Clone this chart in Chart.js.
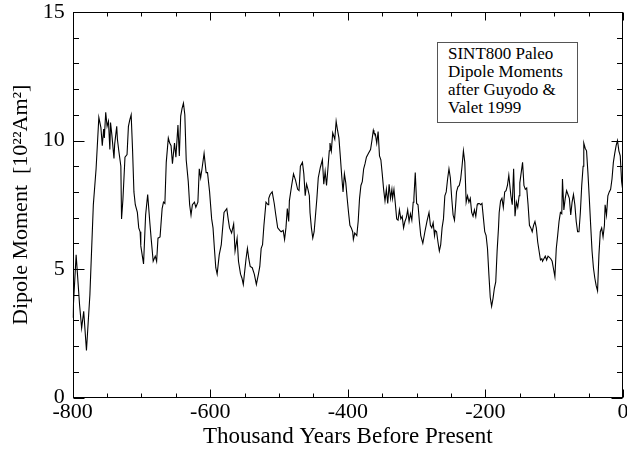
<!DOCTYPE html>
<html>
<head>
<meta charset="utf-8">
<title>SINT800 Paleo Dipole Moments</title>
<script src="https://cdn.jsdelivr.net/npm/chart.js@4"></script>
<style>
    body { margin: 0; background: #fff; }
    #wrap { position: relative; width: 627px; height: 458px; }
    #note {
        position: absolute; left: 437px; top: 42px; width: 141px; height: 81px;
        box-sizing: border-box; border: 1px solid #555; background: #fff;
        font-family: "Liberation Serif", serif; font-size: 17px; line-height: 18px;
        padding: 2px 0 0 10px; color: #000; white-space: nowrap;
    }
</style>
</head>
<body>
<div id="wrap">
    <canvas id="dipoleChart" width="627" height="458"></canvas>
    <div id="note">SINT800 Paleo<br>Dipole Moments<br>after Guyodo &amp;<br>Valet 1999</div>
</div>
<script>
// Data (thousand years before present, 10^22 Am^2)
const years = [
    -800, -795, -790, -787, -784, -780, -775, -770, -766, -762, -759, -757, -755, -754, -752, -750,
    -748, -746, -745, -743, -740, -739, -736, -735, -733, -730, -729, -727, -724, -721, -719, -717,
    -715, -713, -711, -709, -706, -704, -702, -701, -697, -694, -691, -688, -686, -683, -680, -678,
    -676, -673, -670, -668, -666, -664, -661, -659, -657, -655, -652, -650, -647, -645, -643, -641,
    -639, -637, -635, -632, -630, -628, -626, -623, -621, -618, -616, -614, -612, -609, -606, -604,
    -601, -598, -596, -594, -592, -590, -587, -584, -582, -580, -576, -574, -572, -569, -566, -564,
    -561, -559, -556, -554, -552, -550, -548, -546, -544, -542, -539, -536, -533, -530, -528, -526,
    -524, -522, -519, -516, -515, -513, -510, -507, -505, -502, -499, -497, -494, -492, -490, -488,
    -486, -485, -482, -479, -476, -473, -471, -469, -466, -464, -462, -460, -458, -456, -455, -453,
    -451, -449, -447, -445, -443, -440, -437, -435, -433, -431, -429, -427, -426, -424, -422, -419,
    -417, -415, -413, -411, -409, -407, -405, -403, -401, -399, -397, -395, -393, -392, -390, -387,
    -385, -383, -381, -379, -377, -375, -373, -370, -367, -365, -363, -362, -360, -358, -356, -354,
    -352, -350, -348, -346, -344, -342, -340, -338, -336, -335, -333, -331, -329, -327, -325, -323,
    -321, -319, -317, -315, -313, -311, -309, -307, -305, -304, -302, -300, -298, -296, -294, -291,
    -288, -285, -282, -280, -278, -276, -274, -273, -271, -269, -267, -265, -263, -261, -259, -257,
    -255, -253, -251, -249, -247, -245, -243, -242, -240, -238, -236, -234, -232, -230, -228, -226,
    -224, -222, -220, -218, -216, -214, -212, -211, -209, -207, -205, -203, -201, -199, -197, -195,
    -193, -191, -189, -187, -185, -183, -181, -180, -178, -176, -174, -172, -170, -168, -166, -163,
    -161, -159, -157, -155, -153, -151, -150, -148, -146, -144, -142, -140, -138, -136, -134, -132,
    -130, -128, -126, -124, -122, -120, -118, -117, -115, -113, -111, -109, -107, -105, -103, -101,
    -99, -97, -95, -93, -91, -89, -88, -86, -84, -82, -80, -78, -76, -74, -72, -70,
    -68, -66, -64, -62, -60, -58, -57, -55, -53, -51, -49, -47, -45, -43, -41, -39,
    -37, -35, -33, -31, -29, -27, -26, -24, -22, -20, -18, -16, -14, -12, -10, -8,
    -6, -4, -2, 0
];
const dipole = [
    3.1, 5.55, 3.6, 2.7, 3.35, 1.83, 4.0, 7.5, 8.9, 10.9, 10.5, 9.8, 10.45, 10.1, 11.1, 10.55,
    10.75, 9.65, 10.7, 10.2, 9.3, 9.85, 10.55, 10.05, 9.6, 9.0, 6.95, 7.7, 9.35, 9.45, 10.55, 10.8,
    11.0, 9.65, 8.0, 7.5, 7.2, 6.6, 6.45, 5.9, 5.2, 7.1, 7.9, 6.85, 6.2, 5.3, 5.5, 5.3,
    6.2, 6.25, 7.35, 7.6, 7.55, 9.15, 10.1, 9.9, 9.8, 9.1, 9.9, 9.35, 10.6, 9.4, 10.95, 11.25,
    11.45, 11.0, 9.25, 8.4, 7.5, 7.1, 7.5, 7.6, 7.4, 7.6, 8.9, 8.55, 8.9, 9.5, 8.75, 8.75,
    8.0, 6.95, 6.6, 5.8, 5.05, 4.8, 5.55, 5.95, 6.6, 7.2, 7.35, 6.95, 6.6, 6.4, 6.75, 5.7,
    6.2, 5.3, 4.8, 4.65, 4.4, 4.9, 5.4, 5.8, 5.4, 5.1, 5.05, 4.8, 4.4, 4.8, 5.1, 5.8,
    5.95, 6.7, 7.6, 7.5, 7.75, 7.9, 8.0, 7.55, 7.15, 6.6, 6.5, 6.45, 6.5, 6.15, 6.6, 7.35,
    6.85, 7.65, 8.2, 8.7, 8.45, 8.1, 8.05, 9.0, 9.15, 8.7, 7.85, 8.3, 8.1, 7.85, 7.2, 6.6,
    6.2, 6.45, 7.1, 7.75, 8.55, 8.95, 9.25, 8.3, 8.8, 8.25, 8.9, 9.6, 9.9, 9.6, 10.3, 10.05,
    10.75, 10.4, 10.1, 9.4, 8.65, 8.0, 8.7, 8.35, 7.75, 7.2, 6.7, 6.6, 6.45, 6.15, 6.4, 6.3,
    6.85, 7.75, 8.25, 8.4, 8.9, 9.1, 9.35, 9.5, 9.65, 10.0, 10.4, 10.3, 10.25, 9.9, 10.35, 9.4,
    9.25, 8.7, 8.1, 7.65, 8.1, 7.55, 8.3, 7.75, 8.1, 7.75, 8.1, 7.55, 6.95, 6.9, 7.3, 6.95,
    7.05, 6.6, 6.85, 7.0, 7.3, 6.85, 7.15, 6.9, 7.6, 7.75, 8.75, 7.55, 7.5, 6.85, 6.3, 6.0,
    6.45, 6.85, 7.2, 6.7, 6.6, 6.8, 6.3, 6.5, 6.45, 6.05, 5.7, 5.95, 6.6, 6.95, 7.85, 8.0,
    8.5, 8.9, 8.55, 7.75, 7.1, 6.9, 7.6, 8.0, 8.2, 8.25, 8.5, 9.0, 9.6, 9.15, 7.6, 7.85,
    7.6, 7.75, 7.2, 7.05, 7.3, 7.05, 7.5, 7.55, 7.55, 7.5, 7.55, 7.0, 6.45, 6.3, 5.8, 4.8,
    3.9, 3.55, 3.85, 4.25, 4.5, 5.7, 6.6, 7.2, 7.65, 7.75, 7.4, 8.0, 8.05, 8.25, 8.65, 7.85,
    7.5, 8.9, 7.05, 7.6, 7.4, 7.85, 8.35, 8.75, 9.15, 8.25, 8.1, 8.15, 7.5, 6.7, 6.6, 6.45,
    6.7, 6.85, 6.6, 6.05, 5.7, 5.35, 5.4, 5.3, 5.4, 5.5, 5.35, 5.5, 5.45, 5.4, 5.3, 5.0,
    4.7, 5.8, 6.3, 6.85, 7.2, 7.15, 8.5, 7.3, 7.75, 8.05, 7.9, 7.75, 7.1, 7.6, 7.9, 7.5,
    6.85, 6.45, 6.45, 7.2, 8.25, 9.0, 9.9, 9.7, 9.6, 8.75, 7.75, 6.7, 5.7, 5.05, 4.65, 4.35,
    4.15, 5.55, 6.45, 6.6, 6.25, 6.7, 7.5, 7.1, 7.85, 8.0, 8.1, 8.5, 9.15, 9.5, 9.8, 10.0,
    9.6, 9.4, 8.4, 8.0
];
const xTicks = [-800, -600, -400, -200, 0];
const yTicks = [0, 5, 10, 15];
const xMinorStep = 50;
const yMinorStep = 1;

const serif = "'Liberation Serif', 'Times New Roman', serif";

// IDL style frame: box on all four sides, ticks pointing inwards
const boxTicks = {
    id: 'boxTicks',
    afterDraw(chart) {
        const { ctx, chartArea: a, scales: { x, y } } = chart;
        const L = Math.round(a.left) + 0.5, R = Math.round(a.right) - 0.5;
        const T = Math.round(a.top) + 0.5, B = Math.round(a.bottom) - 0.5;
        ctx.save();
        ctx.strokeStyle = '#000';
        ctx.lineWidth = 1;
        ctx.strokeRect(L, T, R - L, B - T);
        ctx.beginPath();
        for (let v = x.min; v <= x.max; v += xMinorStep) {
            const px = Math.round(x.getPixelForValue(v)) + 0.5;
            const len = xTicks.includes(v) ? 8 : 4;
            ctx.moveTo(px, B); ctx.lineTo(px, B - len);
            ctx.moveTo(px, T); ctx.lineTo(px, T + len);
        }
        for (let v = y.min; v <= y.max; v += yMinorStep) {
            const py = Math.round(y.getPixelForValue(v)) + 0.5;
            const len = yTicks.includes(v) ? 11 : 5.5;
            ctx.moveTo(L, py); ctx.lineTo(L + len, py);
            ctx.moveTo(R, py); ctx.lineTo(R - len, py);
        }
        ctx.stroke();
        ctx.restore();
    }
};

const ctx = document.getElementById('dipoleChart').getContext('2d');
const dipoleChart = new Chart(ctx, {
    type: 'line',
    data: {
        datasets: [{
            data: years.map((t, i) => ({ x: t, y: dipole[i] })),
            borderColor: '#000',
            borderWidth: 1.1,
            pointRadius: 0,
            tension: 0,
            fill: false
        }]
    },
    options: {
        responsive: false,
        animation: false,
        layout: { padding: { top: 12, right: 4, left: 0, bottom: 0 } },
        plugins: { legend: { display: false }, tooltip: { enabled: false } },
        scales: {
            x: {
                type: 'linear',
                min: -800,
                max: 0,
                afterBuildTicks: (s) => { s.ticks = xTicks.map(v => ({ value: v })); },
                ticks: { color: '#000', font: { family: serif, size: 22 }, padding: 2, maxRotation: 0 },
                grid: { display: false, drawTicks: false },
                border: { display: false },
                title: {
                    display: true,
                    text: 'Thousand Years Before Present',
                    color: '#000',
                    font: { family: serif, size: 23 },
                    padding: { top: 0, bottom: 7 }
                },
                afterFit: (s) => { s.height = 60.5; s.paddingLeft = 0; s.paddingRight = 0; }
            },
            y: {
                type: 'linear',
                min: 0,
                max: 15,
                afterBuildTicks: (s) => { s.ticks = yTicks.map(v => ({ value: v })); },
                ticks: { color: '#000', font: { family: serif, size: 22 }, padding: 8 },
                grid: { display: false, drawTicks: false },
                border: { display: false },
                title: {
                    display: true,
                    text: 'Dipole Moment  [10\u00B2\u00B2Am\u00B2]',
                    color: '#000',
                    font: { family: serif, size: 22 },
                    padding: { top: 8, bottom: 0 }
                },
                afterFit: (s) => { s.width = 72.7; s.paddingTop = 0; s.paddingBottom = 0; }
            }
        }
    },
    plugins: [boxTicks]
});
</script>
</body>
</html>
